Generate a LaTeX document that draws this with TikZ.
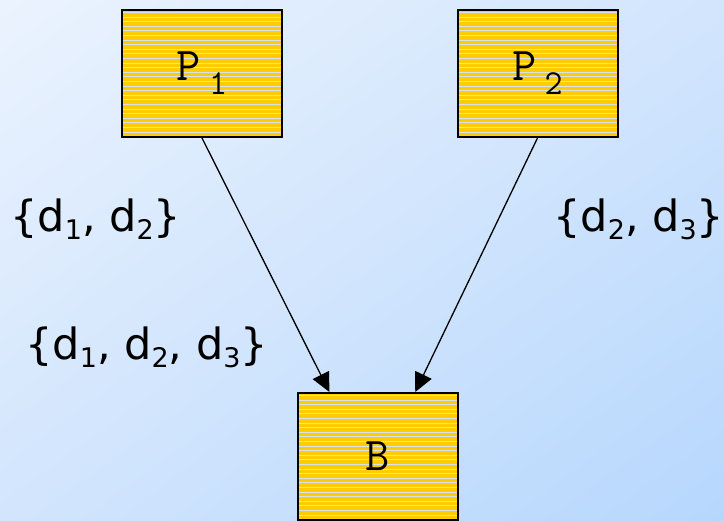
\documentclass[tikz,border=0pt]{standalone}
\usepackage{fontspec}
\setmainfont{DejaVu Sans}
\usepackage{xcolor}
\usetikzlibrary{arrows.meta,shadings}
\definecolor{bgtl}{HTML}{EBF3FE}
\definecolor{bgmid}{HTML}{D2E5FD}
\definecolor{bgbr}{HTML}{B6D7FD}
\definecolor{gold}{HTML}{FFCC00}
\definecolor{stripe}{HTML}{D8E2EE}
% lowered indices
\newcommand{\dsub}[1]{\raisebox{-8pt}{\fontsize{27}{27}\selectfont #1}}
\newcommand{\psub}[1]{\,\raisebox{-14pt}{\fontsize{35}{35}\selectfont #1}}
\tikzset{
  proc/.style={draw=black,line width=2pt,fill=gold,minimum width=160pt,minimum height=127pt,
    inner sep=0pt,font=\ttfamily\fontsize{47}{47}\selectfont,
    path picture={\foreach \k in {0,...,32}
      \draw[stripe,line width=1pt] ([yshift=-\k*4.6pt-2.5pt]path picture bounding box.north west)
        -- ([yshift=-\k*4.6pt-2.5pt]path picture bounding box.north east);}},
  flow/.style={line width=1.3pt,-{Triangle[length=19pt,width=18pt]}},
  set/.style={font=\fontsize{43}{43}\selectfont,anchor=base west,inner sep=0pt}
}
\begin{document}
\begin{tikzpicture}[x=1pt,y=-1pt]
\useasboundingbox (0,0) rectangle (724,521);
\clip (0,0) rectangle (724,521);
\shade[upper left=bgtl,upper right=bgmid,lower left=bgmid,lower right=bgbr] (0,0) rectangle (724,521);
\node[proc] (p1) at (202,73.5) {P\psub{1}};
\node[proc] (p2) at (537.5,73.5) {P\psub{2}};
\node[proc] (b) at (378,456.5) {B};
\draw[flow] (p1.south) -- (b.127);
\draw[flow] (p2.south) -- (b.60);
% data sets
\node[set] (s1) at (10,232) {\{d\dsub{1}, d\dsub{2}\}};
\node[set] (s2) at (553,232) {\{d\dsub{2}, d\dsub{3}\}};
\node[set] (s3) at (25,360) {\{d\dsub{1}, d\dsub{2}, d\dsub{3}\}};
\end{tikzpicture}
\end{document}
